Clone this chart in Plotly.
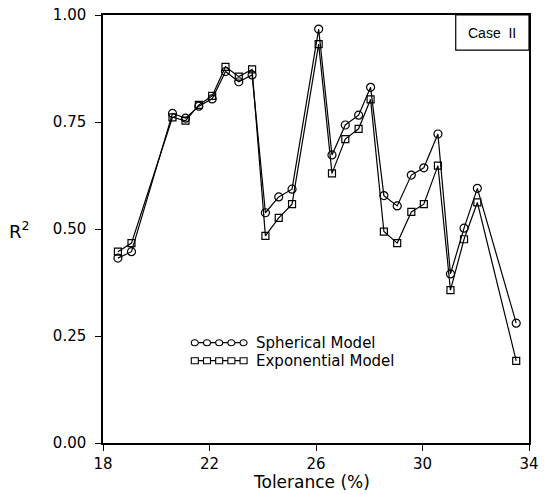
import plotly.graph_objects as go

tolerance = [18.56, 19.07, 20.61, 21.1, 21.6, 22.1, 22.6, 23.1, 23.6, 24.1, 24.6, 25.1,
             26.1, 26.6, 27.1, 27.6, 28.05, 28.55, 29.05, 29.58, 30.05, 30.58, 31.05,
             31.56, 32.06, 33.52]
spherical = [0.432, 0.447, 0.770, 0.759, 0.787, 0.804, 0.868, 0.844, 0.860, 0.538, 0.575,
             0.593, 0.967, 0.673, 0.743, 0.766, 0.831, 0.578, 0.554, 0.626, 0.643, 0.722,
             0.395, 0.502, 0.595, 0.280]
exponential = [0.447, 0.467, 0.761, 0.753, 0.790, 0.811, 0.879, 0.856, 0.873, 0.484, 0.526,
               0.558, 0.932, 0.630, 0.710, 0.734, 0.803, 0.494, 0.467, 0.540, 0.558, 0.648,
               0.357, 0.476, 0.562, 0.192]
x_ticks = [18, 22, 26, 30, 34]
y_ticks = [0.0, 0.25, 0.5, 0.75, 1.0]
series_names = ["Spherical Model", "Exponential Model"]

FONT = "DejaVu Sans"
fig = go.Figure()
fig.add_trace(go.Scatter(x=tolerance, y=exponential, mode="lines+markers", name=series_names[1],
                         line=dict(color="black", width=1.2),
                         marker=dict(symbol="square-open", size=7, color="black", line=dict(width=1.2)),
                         showlegend=False))
fig.add_trace(go.Scatter(x=tolerance, y=spherical, mode="lines+markers", name=series_names[0],
                         line=dict(color="black", width=1.2),
                         marker=dict(symbol="circle-open", size=8, color="black", line=dict(width=1.2)),
                         showlegend=False))

shapes = []
annotations = []
# legend glyphs (paper coords)
lx0, lx1 = 0.2075, 0.338
for yy, kind, name in [(0.2343, "circle", series_names[0]), (0.1923, "rect", series_names[1])]:
    shapes.append(dict(type="line", xref="paper", yref="paper", x0=lx0, x1=lx1, y0=yy, y1=yy,
                       line=dict(color="black", width=1.2)))
    for i in range(5):
        xc = lx0 + 0.008 + i * (lx1 - lx0 - 0.016) / 4
        shapes.append(dict(type=kind, xref="paper", yref="paper", xsizemode="pixel", ysizemode="pixel",
                           xanchor=xc, yanchor=yy, x0=-3.5, x1=3.5, y0=-3, y1=3,
                           line=dict(color="black", width=1.1), fillcolor="white"))
    annotations.append(dict(text=name, xref="paper", yref="paper", x=0.354, y=yy, xanchor="left",
                            yanchor="middle", showarrow=False,
                            font=dict(family=FONT, size=15, color="black")))

# Case II box
shapes.append(dict(type="rect", xref="paper", yref="paper", x0=0.828, x1=1.0, y0=0.918, y1=1.0,
                   line=dict(color="black", width=1.2)))
annotations.append(dict(text="Case  II", xref="paper", yref="paper", x=0.914, y=0.959,
                        xanchor="center", yanchor="middle", showarrow=False,
                        font=dict(family="Liberation Sans", size=14, color="black")))
# y-axis title
annotations.append(dict(text="R<sup>2</sup>", xref="paper", yref="paper", x=-0.225, y=0.497,
                        xanchor="left", yanchor="middle", showarrow=False,
                        font=dict(family=FONT, size=18, color="black")))
# x-axis title
annotations.append(dict(text="Tolerance (%)", xref="paper", yref="paper", x=0.49, y=-0.09,
                        xanchor="center", yanchor="middle", showarrow=False,
                        font=dict(family=FONT, size=17, color="black")))

fig.update_layout(
    width=544, height=494,
    margin=dict(l=103, r=15, t=15, b=51, autoexpand=False),
    paper_bgcolor="white", plot_bgcolor="white",
    shapes=shapes, annotations=annotations,
    font=dict(family=FONT, color="black"),
    xaxis=dict(range=[18, 34], tickvals=x_ticks, ticktext=[str(v) for v in x_ticks],
               showgrid=False, zeroline=False, showline=True, mirror=True, automargin=False,
               linecolor="black", linewidth=1.5, ticks="outside", ticklen=6, tickwidth=1.2,
               tickcolor="black", tickfont=dict(family=FONT, size=15)),
    yaxis=dict(range=[0, 1], tickvals=y_ticks, ticktext=[f"{v:.2f}" for v in y_ticks],
               showgrid=False, zeroline=False, showline=True, mirror=True, automargin=False,
               linecolor="black", linewidth=1.5, ticks="outside", ticklen=6, tickwidth=1.2,
               tickcolor="black", tickfont=dict(family=FONT, size=15), ticklabelstandoff=6),
)
fig.write_html("out.html", config={"displayModeBar": False},
               post_script="document.body.style.margin='0';document.body.style.overflow='hidden';")
